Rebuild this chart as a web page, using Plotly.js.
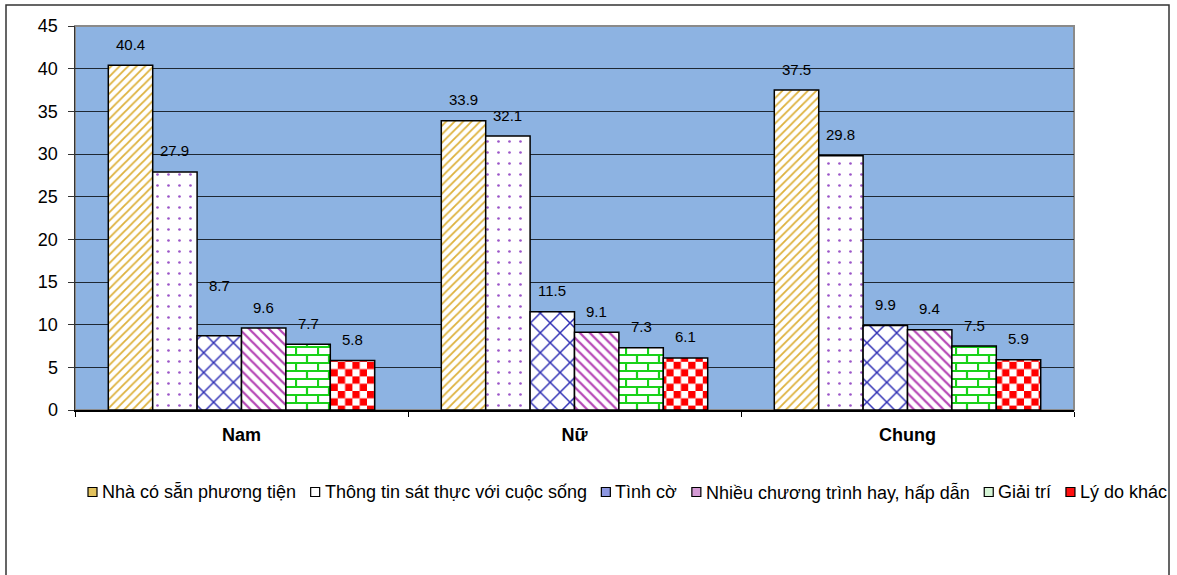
<!DOCTYPE html>
<html>
<head>
<meta charset="utf-8">
<script src="https://cdn.plot.ly/plotly-3.0.1.min.js"></script>
<style>
  html, body { margin: 0; padding: 0; background: #ffffff; }
  #chart { width: 1177px; height: 575px; }
</style>
</head>
<body>
<div id="chart"></div>
<script>
// Survey groups and the share (%) choosing each reason
const categories = ['Nam', 'Nữ', 'Chung'];
const seriesNames = [
  'Nhà có sẵn phương tiện',
  'Thông tin sát thực với cuộc sống',
  'Tình cờ',
  'Nhiều chương trình hay, hấp dẫn',
  'Giải trí',
  'Lý do khác'
];
const nhaCoSan = [40.4, 33.9, 37.5];
const thongTin = [27.9, 32.1, 29.8];
const tinhCo = [8.7, 11.5, 9.9];
const nhieuChuongTrinh = [9.6, 9.1, 9.4];
const giaiTri = [7.7, 7.3, 7.5];
const lyDoKhac = [5.8, 6.1, 5.9];
const yTickValues = [0, 5, 10, 15, 20, 25, 30, 35, 40, 45];

const seriesValues = [nhaCoSan, thongTin, tinhCo, nhieuChuongTrinh, giaiTri, lyDoKhac];

// Frame geometry (pixels)
const W = 1177, H = 575;
const M = { l: 75, r: 103, t: 26, b: 165 };
const plotW = W - M.l - M.r, plotH = H - M.t - M.b;
const px2x = px => (px - M.l) / plotW;
const py2y = py => (H - M.b - py) / plotH;

const FONT = '"Liberation Sans", Arial, sans-serif';
const BARGAP = 0.2;
const barPx = plotW / categories.length * (1 - BARGAP) / seriesNames.length;

// Fill style of each series
const fills = [
  { shape: '/', fg: '#DDB13C', size: 6, solidity: 0.3 },
  { shape: '.', fg: '#9B55C8', size: 11, solidity: 0.045 },
  { shape: 'x', fg: '#2E2EB4', size: 14, solidity: 0.2 },
  { shape: '\\', fg: '#B444B4', size: 7, solidity: 0.32 },
  { custom: 'brickFill' },
  { custom: 'checkerFill' }
];
const swatchColors = ['#E2C25E', '#FFFFFF', '#8C96E0', '#D49AD4', '#D6F5D6', '#FF1010'];

const traces = seriesNames.map((name, i) => {
  const f = fills[i];
  const marker = { color: '#FFFFFF', line: { color: '#000000', width: 1.5 } };
  if (f.shape) {
    marker.pattern = { shape: f.shape, fgcolor: f.fg, bgcolor: '#FFFFFF', size: f.size, solidity: f.solidity };
  }
  return {
    type: 'bar',
    name: name,
    x: categories,
    y: seriesValues[i],
    marker: marker,
    hoverinfo: 'skip',
    showlegend: false
  };
});

// Value labels above each bar; the first "Nam" reason label sits higher
const labelLift = (si, ci) => (si === 2 && ci === 0) ? 50 : 21;
const annotations = [];
seriesValues.forEach((vals, si) => {
  vals.forEach((v, ci) => {
    annotations.push({
      x: categories[ci], y: v, xref: 'x', yref: 'y',
      text: v.toFixed(1), showarrow: false,
      xshift: (si - (seriesNames.length - 1) / 2) * barPx,
      yshift: labelLift(si, ci),
      xanchor: 'center', yanchor: 'middle',
      font: { family: FONT, size: 15, color: '#000000' }
    });
  });
});

// Legend row: swatch + text, laid out from measured text widths
const shapes = [];
const legendFont = 18;
const ctx = document.createElement('canvas').getContext('2d');
ctx.font = legendFont + 'px "Liberation Sans"';
const legendLeft = 88, legendRight = 1165, legendY = 492, sw = 9, swGap = 3;
const textW = seriesNames.map(n => ctx.measureText(n).width);
const used = textW.reduce((a, b) => a + b, 0) + seriesNames.length * (sw + swGap);
const itemGap = Math.max(4, (legendRight - legendLeft - used) / (seriesNames.length - 1));
let cx = legendLeft;
seriesNames.forEach((n, i) => {
  shapes.push({
    type: 'rect', xref: 'paper', yref: 'paper',
    x0: px2x(cx), x1: px2x(cx + sw),
    y0: py2y(legendY + sw / 2), y1: py2y(legendY - sw / 2),
    fillcolor: swatchColors[i], line: { color: '#000000', width: 1.2 }
  });
  annotations.push({
    xref: 'paper', yref: 'paper',
    x: px2x(cx + sw + swGap), y: py2y(legendY),
    xanchor: 'left', yanchor: 'middle', showarrow: false,
    text: n, font: { family: FONT, size: legendFont, color: '#000000' }
  });
  cx += sw + swGap + textW[i] + itemGap;
});

// Plot-area outline and chart-area frame
shapes.push({
  type: 'rect', xref: 'paper', yref: 'paper', x0: 0, x1: 1, y0: 0, y1: 1,
  line: { color: '#8A8A8A', width: 2 }, layer: 'below'
});
shapes.push({
  type: 'rect', xref: 'paper', yref: 'paper',
  x0: px2x(6), x1: px2x(1169), y0: py2y(590), y1: py2y(5),
  line: { color: '#333333', width: 1.5 }, layer: 'below'
});

const layout = {
  width: W, height: H,
  margin: M,
  paper_bgcolor: '#FFFFFF',
  plot_bgcolor: '#8DB3E2',
  barmode: 'group',
  bargap: BARGAP,
  bargroupgap: 0,
  showlegend: false,
  font: { family: FONT, color: '#000000' },
  xaxis: {
    type: 'category',
    tickson: 'boundaries',
    ticks: 'outside', ticklen: 5, tickcolor: '#000000', tickwidth: 1,
    showline: true, linecolor: '#000000', linewidth: 1.5,
    showgrid: false, zeroline: false,
    tickfont: { family: FONT, size: 18, color: '#000000', weight: 'bold' },
    ticklabelstandoff: 8,
    fixedrange: true
  },
  yaxis: {
    range: [0, 45],
    tickvals: yTickValues,
    ticktext: yTickValues.map(String),
    ticks: 'outside', ticklen: 6, tickcolor: '#333333', tickwidth: 1,
    showline: true, linecolor: '#333333', linewidth: 1.5,
    showgrid: true, gridcolor: '#1E2833', gridwidth: 1,
    zeroline: false,
    tickfont: { family: FONT, size: 18, color: '#000000' },
    ticklabelstandoff: 6,
    fixedrange: true
  },
  shapes: shapes,
  annotations: annotations
};

const gd = document.getElementById('chart');
Plotly.newPlot(gd, traces, layout, { staticPlot: true, displayModeBar: false }).then(() => {
  // Brick and checker fills for the last two series
  const svgNS = 'http://www.w3.org/2000/svg';
  const defs = gd.querySelector('svg.main-svg defs');
  const mk = (tag, attrs, parent) => {
    const el = document.createElementNS(svgNS, tag);
    Object.keys(attrs).forEach(k => el.setAttribute(k, attrs[k]));
    if (parent) parent.appendChild(el);
    return el;
  };
  const brick = mk('pattern', { id: 'brickFill', patternUnits: 'userSpaceOnUse', width: 22, height: 16 }, defs);
  mk('rect', { x: 0, y: 0, width: 22, height: 16, fill: '#FFFFFF' }, brick);
  mk('path', {
    d: 'M0,1H22M0,9H22M1,1V9M12,9V17',
    stroke: '#19D219', 'stroke-width': 2.2, fill: 'none'
  }, brick);
  const checker = mk('pattern', { id: 'checkerFill', patternUnits: 'userSpaceOnUse', width: 14.6, height: 14.6 }, defs);
  mk('rect', { x: 0, y: 0, width: 14.6, height: 14.6, fill: '#FFFFFF' }, checker);
  mk('rect', { x: 0, y: 0, width: 7.3, height: 7.3, fill: '#FF0000' }, checker);
  mk('rect', { x: 7.3, y: 7.3, width: 7.3, height: 7.3, fill: '#FF0000' }, checker);

  const groups = gd.querySelectorAll('.barlayer .trace');
  fills.forEach((f, i) => {
    if (f.custom && groups[i]) {
      groups[i].querySelectorAll('path').forEach(p => { p.style.fill = 'url(#' + f.custom + ')'; });
    }
  });
});
</script>
</body>
</html>
